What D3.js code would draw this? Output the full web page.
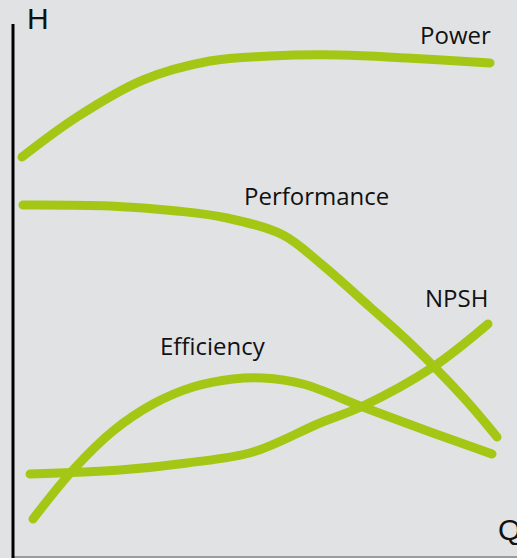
<!DOCTYPE html>
<html>
<head>
<meta charset="utf-8">
<script src="https://cdn.jsdelivr.net/npm/d3@7"></script>
<style>
html,body{margin:0;padding:0;background:#e1e2e4;}
svg{display:block;}
</style>
</head>
<body>
<div id="chart"></div>
<script>
// Data in chart units (Q along x, H up)
const powerQ = [9, 64, 130, 197, 257, 327, 394, 477];
const powerH = [401, 441, 478, 497, 502, 503, 500, 495];

const perfQ = [10, 97, 164, 214, 270, 307, 357, 397, 450, 484];
const perfH = [353, 352, 347, 340, 323, 295, 251, 215, 161, 121];

const effQ = [20, 60, 100, 140, 180, 220, 250, 290, 350, 420, 479];
const effH = [39, 88, 127, 154, 171, 179, 180, 174, 151, 125, 104];

const npshQ = [17, 107, 174, 240, 307, 350, 420, 475];
const npshH = [84, 88, 95, 106, 135, 152, 191, 234];

const seriesNames = ["Power", "Performance", "Efficiency", "NPSH"];
const labelPos = [[407, 514], [231, 353], [147, 203], [412, 251]]; // [Q, H] of label start
const axisLabels = ["H", "Q"];

const W = 517, H = 558;
const x = d3.scaleLinear().domain([0, 504]).range([13, 517]);
const y = d3.scaleLinear().domain([0, 534]).range([558, 24]);

const svg = d3.select("#chart").append("svg").attr("width", W).attr("height", H);
svg.append("rect").attr("width", W).attr("height", H).attr("fill", "#e1e2e4");

// bottom baseline
svg.append("line").attr("x1", x(0)).attr("x2", W).attr("y1", 557).attr("y2", 557)
  .attr("stroke", "#9a9b9d").attr("stroke-width", 2);
// vertical axis
svg.append("line").attr("x1", x(0)).attr("x2", x(0)).attr("y1", y(534)).attr("y2", y(0))
  .attr("stroke", "#000").attr("stroke-width", 3);

const zip = (qs, hs) => qs.map((q, i) => [q, hs[i]]);
const series = [zip(powerQ, powerH), zip(perfQ, perfH), zip(effQ, effH), zip(npshQ, npshH)];

const line = d3.line().x(d => x(d[0])).y(d => y(d[1])).curve(d3.curveCatmullRom.alpha(0.5));

svg.selectAll("path.curve").data(series).enter().append("path")
  .attr("class", "curve")
  .attr("d", line)
  .attr("fill", "none")
  .attr("stroke", "#a3c714")
  .attr("stroke-width", 9)
  .attr("stroke-linecap", "round")
  .attr("stroke-linejoin", "round");

svg.selectAll("text.lbl").data(seriesNames).enter().append("text")
  .attr("class", "lbl")
  .attr("x", (d, i) => x(labelPos[i][0]))
  .attr("y", (d, i) => y(labelPos[i][1]))
  .attr("font-family", "'Open Sans', sans-serif")
  .attr("font-size", 24)
  .attr("fill", "#111")
  .text(d => d);

svg.append("text").attr("x", 27).attr("y", 29)
  .attr("font-family", "'Liberation Sans', Arial, sans-serif").attr("font-size", 30)
  .attr("fill", "#111").text(axisLabels[0]);
svg.append("text").attr("x", 498).attr("y", 540)
  .attr("font-family", "'Liberation Sans', Arial, sans-serif").attr("font-size", 30)
  .attr("fill", "#111").text(axisLabels[1]);
</script>
</body>
</html>
